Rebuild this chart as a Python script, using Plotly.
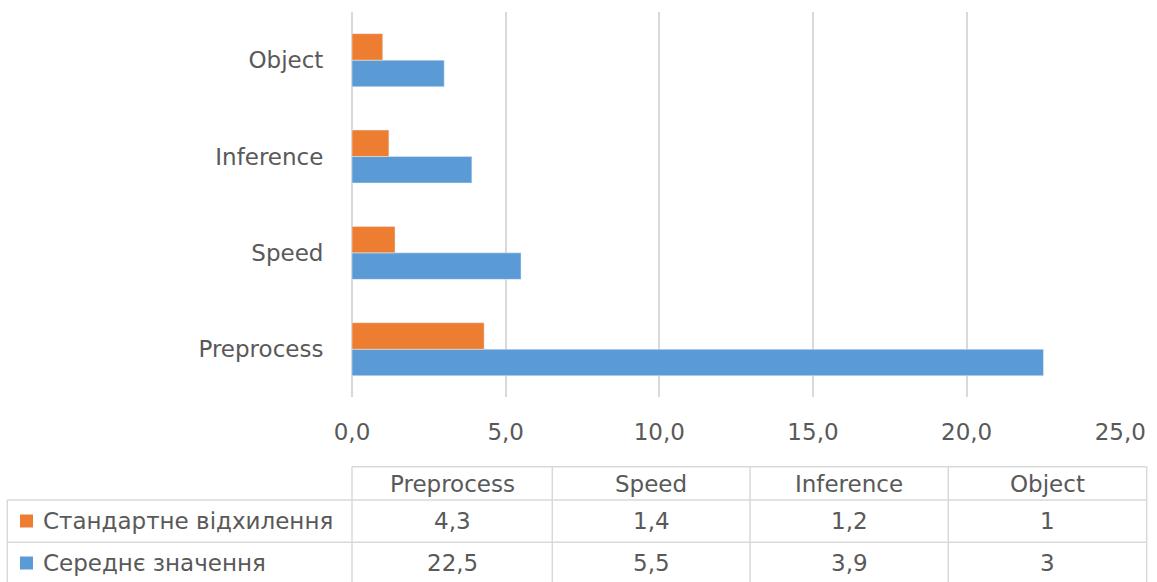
import plotly.graph_objects as go

# Categories and series values
categories = ["Preprocess", "Speed", "Inference", "Object"]
std_values = [4.3, 1.4, 1.2, 1.0]       # Стандартне відхилення
mean_values = [22.5, 5.5, 3.9, 3.0]     # Середнє значення
series_names = ["Стандартне відхилення", "Середнє значення"]
x_ticks = [0, 5, 10, 15, 20, 25]

W, H = 1157, 582
ORANGE = "#ED7D31"
BLUE = "#5B9BD5"
TEXT = "#595959"
GRID = "#D9D9D9"
FONT = "DejaVu Sans"
FS = 23


def px(x):
    return x / W


def py(y):
    return 1 - y / H


def fmt(v):
    return f"{v:g}".replace(".", ",")


fig = go.Figure()
fig.add_trace(go.Bar(y=categories, x=mean_values, orientation="h", name=series_names[1],
                     marker=dict(color=BLUE)))
fig.add_trace(go.Bar(y=categories, x=std_values, orientation="h", name=series_names[0],
                     marker=dict(color=ORANGE)))

fig.update_layout(
    width=W, height=H,
    autosize=False,
    margin=dict(l=0, r=0, t=0, b=0, pad=0),
    paper_bgcolor="white", plot_bgcolor="white",
    barmode="group", bargap=0.45, bargroupgap=0,
    showlegend=False,
    separators=", ",
    font=dict(family=FONT, size=FS, color=TEXT),
    xaxis=dict(
        domain=[px(352), px(1120.3)], range=[0, 25],
        tickvals=x_ticks, tickformat=".1f",
        showgrid=True, gridcolor=GRID, gridwidth=1.5,
        zeroline=True, zerolinecolor=GRID, zerolinewidth=1.5,
        showline=False, automargin=False,
        ticks="outside", ticklen=14, tickcolor="rgba(0,0,0,0)",
        tickfont=dict(family=FONT, size=FS, color=TEXT),
        fixedrange=True,
    ),
    yaxis=dict(
        domain=[py(397.4), py(12)],
        showgrid=False, zeroline=False, showline=False, automargin=False,
        ticks="outside", ticklen=23, tickcolor="rgba(0,0,0,0)",
        tickfont=dict(family=FONT, size=FS, color=TEXT),
        fixedrange=True,
    ),
)

# Data table under the chart
col_edges = [352, 552.3, 750, 948.3, 1146.7]
legend_left = 7.3
row_edges = [466.7, 500, 542.3, 590]
row_centers = [483.5, 521, 563]

line = dict(color=GRID, width=1.5)
shapes = []
# horizontal lines
shapes.append(dict(type="line", xref="paper", yref="paper",
                   x0=px(col_edges[0]), x1=px(col_edges[-1]),
                   y0=py(row_edges[0]), y1=py(row_edges[0]), line=line))
for r in row_edges[1:3]:
    shapes.append(dict(type="line", xref="paper", yref="paper",
                       x0=px(legend_left), x1=px(col_edges[-1]),
                       y0=py(r), y1=py(r), line=line))
# vertical lines
for c in col_edges:
    shapes.append(dict(type="line", xref="paper", yref="paper",
                       x0=px(c), x1=px(c),
                       y0=py(row_edges[0]), y1=py(row_edges[-1]), line=line))
shapes.append(dict(type="line", xref="paper", yref="paper",
                   x0=px(legend_left), x1=px(legend_left),
                   y0=py(row_edges[1]), y1=py(row_edges[-1]), line=line))

# legend keys
for yc, colr in zip(row_centers[1:], [ORANGE, BLUE]):
    shapes.append(dict(type="rect", xref="paper", yref="paper",
                       x0=px(20), x1=px(33), y0=py(yc - 6.5), y1=py(yc + 6.5),
                       fillcolor=colr, line=dict(width=0)))

annotations = []
cell_font = dict(family=FONT, size=FS, color=TEXT)
for i, cat in enumerate(categories):
    xc = (col_edges[i] + col_edges[i + 1]) / 2
    annotations.append(dict(x=px(xc), y=py(row_centers[0]), xref="paper", yref="paper",
                            text=cat, showarrow=False, xanchor="center", yanchor="middle",
                            font=cell_font))
    annotations.append(dict(x=px(xc), y=py(row_centers[1]), xref="paper", yref="paper",
                            text=fmt(std_values[i]), showarrow=False,
                            xanchor="center", yanchor="middle", font=cell_font))
    annotations.append(dict(x=px(xc), y=py(row_centers[2]), xref="paper", yref="paper",
                            text=fmt(mean_values[i]), showarrow=False,
                            xanchor="center", yanchor="middle", font=cell_font))
for name, yc in zip(series_names, row_centers[1:]):
    annotations.append(dict(x=px(41), y=py(yc), xref="paper", yref="paper",
                            text=name, showarrow=False, xanchor="left", yanchor="middle",
                            font=cell_font))

fig.update_layout(shapes=shapes, annotations=annotations)

fig.write_html("out.html", config={"displayModeBar": False})
